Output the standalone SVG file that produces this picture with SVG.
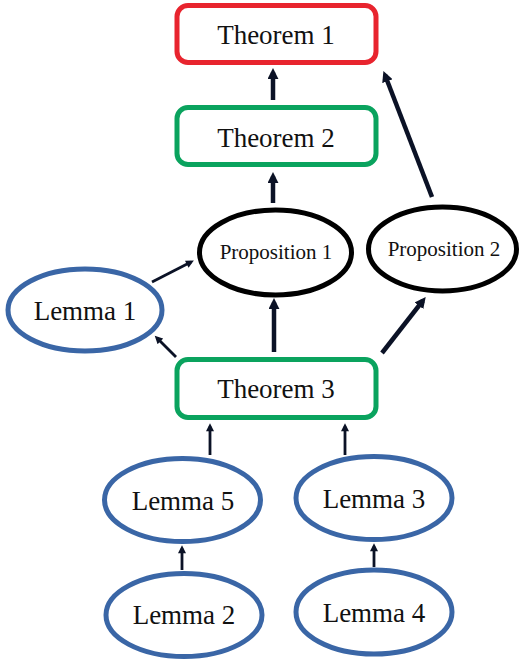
<svg xmlns="http://www.w3.org/2000/svg" width="520" height="664" viewBox="0 0 520 664">
<style>
.box{fill:#fff;stroke-width:5}
.red{stroke:#e8242e}
.green{stroke:#0aa35e}
.blue{fill:#fff;stroke:#3a66a6;stroke-width:5}
.black{fill:#fff;stroke:#000;stroke-width:5}
.t{font-family:"Liberation Serif",serif;fill:#111;text-anchor:middle}
.big{font-size:27px}
.small{font-size:21px}
.thick{stroke:#0b1226;stroke-width:4.5;fill:none}
.thin{stroke:#0b1226;stroke-width:2.8;fill:none}
</style>
<defs>
<marker id="ah" viewBox="0 0 10 10" refX="6" refY="5" markerUnits="userSpaceOnUse" markerWidth="11" markerHeight="11" orient="auto">
<path d="M0,0 L10,5 L0,10 z" fill="#0b1226"/>
</marker>
<marker id="ahs" viewBox="0 0 10 10" refX="6" refY="5" markerUnits="userSpaceOnUse" markerWidth="9" markerHeight="8" orient="auto">
<path d="M0,0 L10,5 L0,10 z" fill="#0b1226"/>
</marker>
</defs>
<rect width="520" height="664" fill="#fff"/>
<g id="connectors">
<line class="thick" x1="273" y1="100" x2="273" y2="72.5" marker-end="url(#ah)"/>
<line class="thick" x1="273" y1="203" x2="273" y2="176.5" marker-end="url(#ah)"/>
<line class="thick" x1="432" y1="197" x2="385" y2="75" marker-end="url(#ah)"/>
<line class="thin" x1="152" y1="282" x2="191" y2="262" marker-end="url(#ahs)"/>
<line class="thin" x1="176" y1="357" x2="157" y2="338" marker-end="url(#ahs)"/>
<line class="thick" x1="274" y1="352" x2="274" y2="302.5" marker-end="url(#ah)"/>
<line class="thick" x1="382" y1="353" x2="423" y2="300.5" marker-end="url(#ah)"/>
<line class="thin" x1="210" y1="455" x2="210" y2="426.5" marker-end="url(#ahs)"/>
<line class="thin" x1="345" y1="455" x2="345" y2="426.5" marker-end="url(#ahs)"/>
<line class="thin" x1="182" y1="570" x2="182" y2="548.5" marker-end="url(#ahs)"/>
<line class="thin" x1="374" y1="567" x2="374" y2="546.5" marker-end="url(#ahs)"/>
</g>
<g id="theorem1">
<rect class="box red" x="177" y="5.5" width="199" height="57" rx="11"/>
<text class="t big" x="276" y="44">Theorem 1</text>
</g>
<g id="theorem2">
<rect class="box green" x="177" y="107.5" width="199" height="57" rx="11"/>
<text class="t big" x="276" y="147">Theorem 2</text>
</g>
<g id="proposition1">
<ellipse class="black" cx="275.5" cy="252.5" rx="76" ry="42.5"/>
<text class="t small" x="276" y="259">Proposition 1</text>
</g>
<g id="proposition2">
<ellipse class="black" cx="442.5" cy="249" rx="74" ry="42"/>
<text class="t small" x="444" y="256">Proposition 2</text>
</g>
<g id="lemma1">
<ellipse class="blue" cx="85" cy="310" rx="77" ry="41"/>
<text class="t big" x="85" y="320">Lemma 1</text>
</g>
<g id="theorem3">
<rect class="box green" x="177" y="359.5" width="199" height="58" rx="11"/>
<text class="t big" x="276" y="398">Theorem 3</text>
</g>
<g id="lemma5">
<ellipse class="blue" cx="182.5" cy="500" rx="78" ry="41.5"/>
<text class="t big" x="183" y="510">Lemma 5</text>
</g>
<g id="lemma3">
<ellipse class="blue" cx="374" cy="498" rx="78" ry="41.5"/>
<text class="t big" x="374" y="508">Lemma 3</text>
</g>
<g id="lemma2">
<ellipse class="blue" cx="184" cy="615" rx="78" ry="41.5"/>
<text class="t big" x="184" y="624">Lemma 2</text>
</g>
<g id="lemma4">
<ellipse class="blue" cx="374" cy="612" rx="78" ry="42"/>
<text class="t big" x="374" y="622">Lemma 4</text>
</g>
</svg>
